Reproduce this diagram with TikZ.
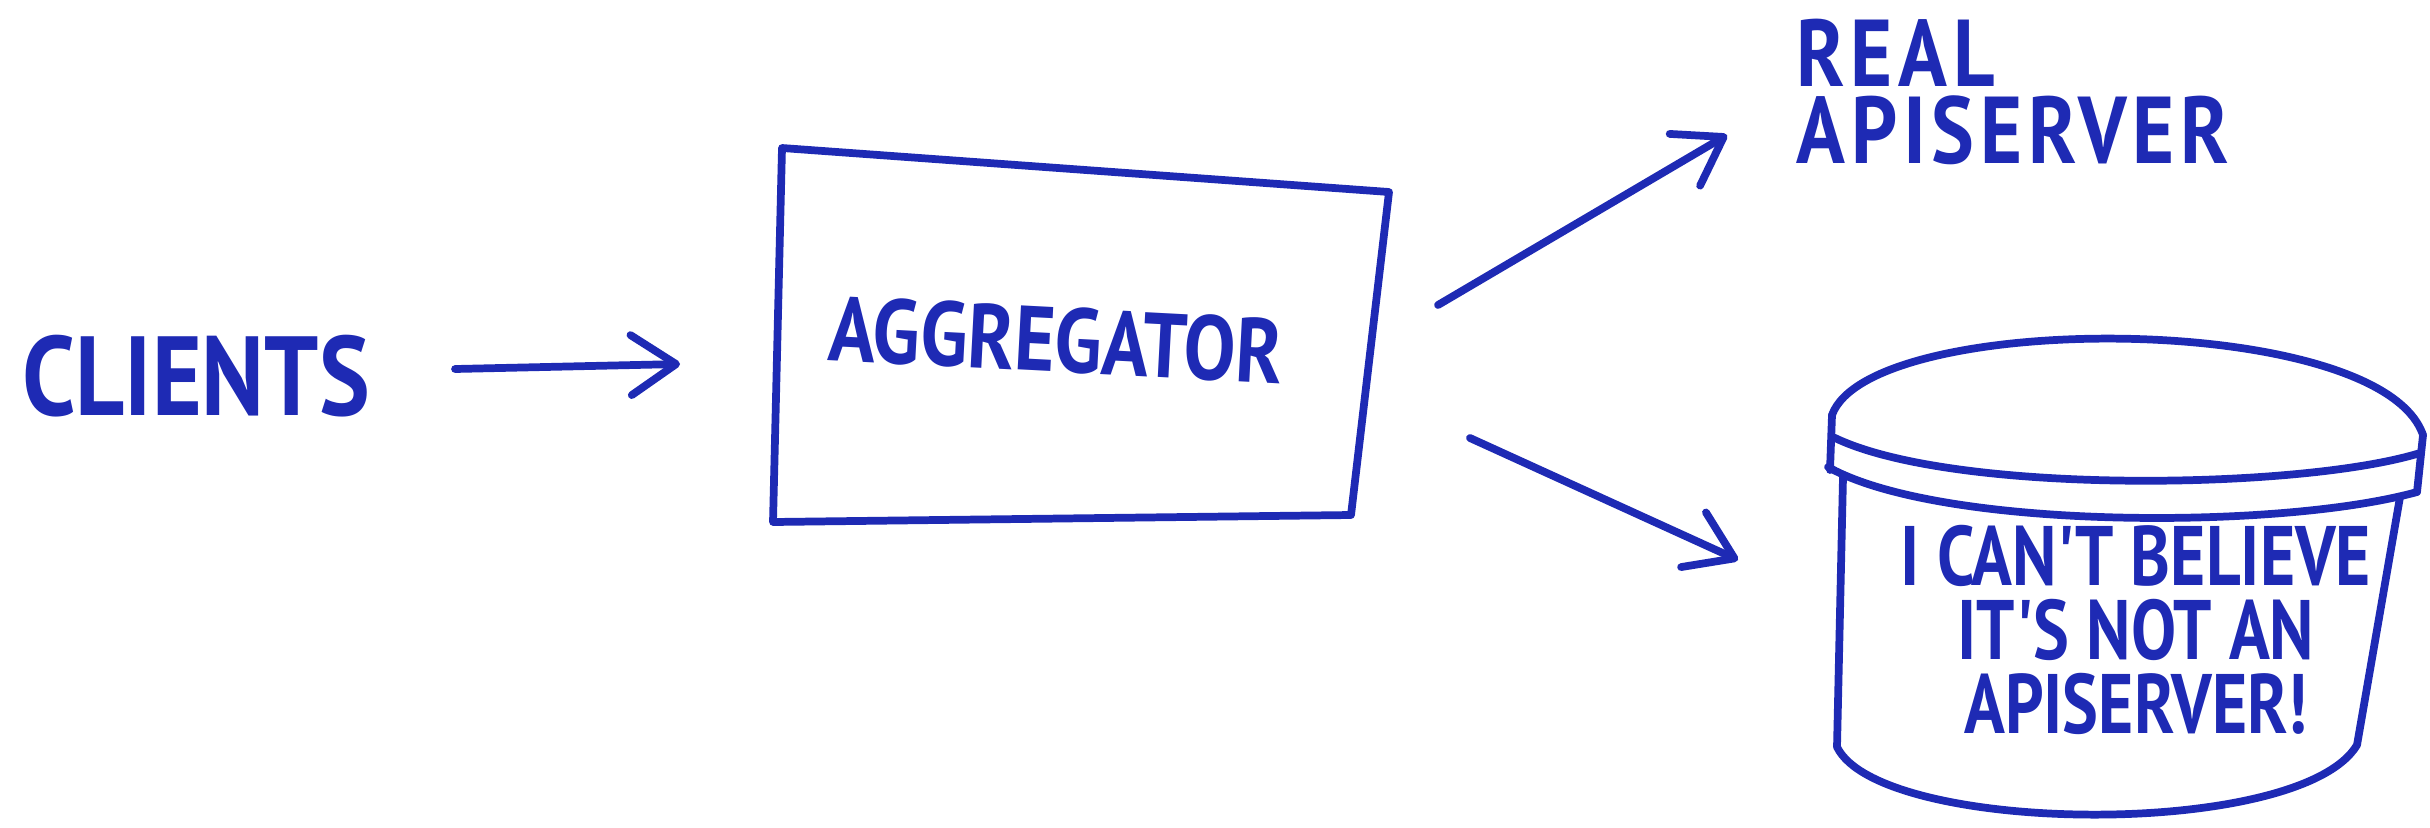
\documentclass[tikz,border=0pt]{standalone}
\usepackage{fontspec}
\usetikzlibrary{arrows.meta}
\newfontfamily\handfont[FakeStretch=0.85]{PT Sans}
\newfontfamily\handnarrow[FakeStretch=0.8]{PT Sans}
\definecolor{ink}{RGB}{30,42,180}

\begin{document}
\begin{tikzpicture}[x=0.01cm, y=-0.01cm, line cap=round, line join=round,
  pen/.style={draw=ink, line width=2.2pt},
  arr/.style={pen, -{Straight Barb[length=0.45cm, width=0.6cm, round]}},
  hand/.style 2 args={text=ink, inner sep=0pt, font=\handfont\bfseries\fontsize{#1}{#2}\selectfont}]
  \useasboundingbox[fill=white] (0,0) rectangle (2430,827);
  % labels
  \node[hand={32}{36}] (clients) at (196,376) {CLIENTS};
  \node[hand={26}{30}, rotate=-3] (agg) at (1056,340) {AGGREGATOR};
  \node[hand={27}{22}, align=left, anchor=west] (real) at (1796,92)
    {\addfontfeatures{LetterSpace=6}REAL\\\addfontfeatures{LetterSpace=6}APISERVER};
  \node[hand={24}{21}, font=\handnarrow\bfseries\fontsize{24}{21}\selectfont, align=center] (fake) at (2136,630)
    {I CAN'T BELIEVE\\IT'S NOT AN\\APISERVER!};
  % aggregator box
  \draw[pen] (782,148) -- (1389,192) -- (1351,515) -- (773,522) -- cycle;
  % the tub
  \draw[pen] (1832,415) .. controls (1870,310) and (2380,310) .. (2423,435);
  \draw[pen] (1832,415) -- (1830,470);
  \draw[pen] (2423,435) -- (2417,492);
  \draw[pen] (1833,437) .. controls (1950,495) and (2300,490) .. (2420,453);
  \draw[pen] (1828,467) .. controls (1940,530) and (2280,530) .. (2417,492);
  \draw[pen] (1843,477) -- (1837,747) .. controls (1880,835) and (2300,840) .. (2357,745) -- (2400,497);
  % arrows
  \coordinate (c-out) at (455,369);
  \coordinate (a-in) at (680,364);
  \coordinate (a-up) at (1438,305);
  \coordinate (r-in) at (1727,135);
  \coordinate (a-down) at (1470,438);
  \coordinate (f-in) at (1738,560);
  \draw[arr] (c-out) -- (a-in);
  \draw[arr] (a-up) -- (r-in);
  \draw[arr] (a-down) -- (f-in);
\end{tikzpicture}
\end{document}
